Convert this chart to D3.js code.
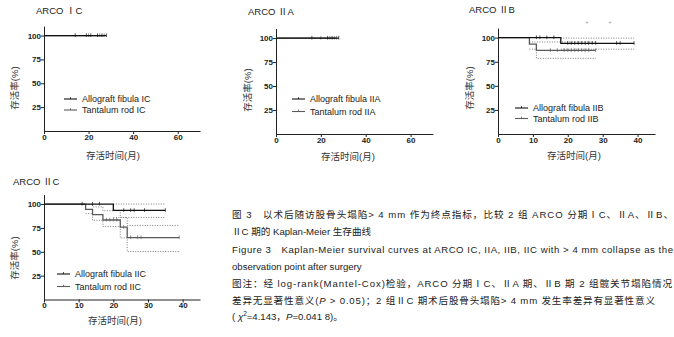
<!DOCTYPE html>
<html>
<head>
<meta charset="utf-8">
<script src="https://cdn.jsdelivr.net/npm/d3@7"></script>
<style>
  body { margin: 0; background: #fff; }
  svg { display: block; }
</style>
</head>
<body>
<script>
// 刻度
const xTicksLong = [0, 20, 40, 60];
const xTicksShort = [0, 10, 20, 30, 40];
const yTicks = [25, 50, 75, 100];

// ARCO IC  [月, 生存率%]
const icAllo = [[0, 100]], icAlloEnd = 28, icAlloCens = [14, 19, 21, 24, 26, 28];
const icTant = [[0, 100]], icTantEnd = 27, icTantCens = [20, 25, 27];

// ARCO IIA
const iiaAllo = [[0, 100]], iiaAlloEnd = 28, iiaAlloCens = [16, 23, 25, 28];
const iiaTant = [[0, 100]], iiaTantEnd = 27, iiaTantCens = [20, 24, 26, 27];

// ARCO IIB
const iibAllo = [[0, 100], [18, 94.1]], iibAlloEnd = 39;
const iibAlloCens = [11, 12, 14, 16, 20, 21, 22, 23, 24, 25, 26, 27, 28, 34, 35, 39];
const iibAlloUp = [[18, 99.5]], iibAlloLo = [[18, 88]];
const iibTant = [[0, 100], [9, 93.3], [11, 86.7]], iibTantEnd = 28;
const iibTantCens = [15, 17, 19, 20, 21, 22, 23, 24, 25, 26, 28];
const iibTantUp = [[9, 95.5]], iibTantLo = [[9, 88], [11, 78.5]];

// ARCO IIC
const iicAllo = [[0, 100], [20, 93.3]], iicAlloEnd = 35;
const iicAlloCens = [11, 14, 16, 23, 25, 26, 29, 35];
const iicAlloUp = [[20, 100]], iicAlloLo = [[20, 86]];
const iicTant = [[0, 100], [12, 94.4], [14, 88.9], [17, 83.3], [22, 75.8], [24, 64.9]], iicTantEnd = 39;
const iicTantCens = [18, 19, 20, 21, 23, 25, 27, 28, 39];
const iicTantUp = [[12, 99.5], [14, 97], [17, 93], [22, 86], [24, 77.6]];
const iicTantLo = [[12, 90], [14, 83], [17, 76.5], [22, 64.5], [24, 50.3]];

const FONT = "'Liberation Sans', 'Noto Sans CJK SC', sans-serif";
const C_ALLO = "#111", C_TANT = "#5a5a5a", C_CI = "#7a7a7a";

const svg = d3.select("body").append("svg")
  .attr("width", 674).attr("height", 337)
  .style("background", "#fff");

const panels = [
  { title: "ARCO ⅠC", tag: "IC", x0: 44, x1: 200, yB: 131, yT: 26, xMax: 70, xTicks: xTicksLong,
    groups: [
      { pts: icTant, end: icTantEnd, cens: icTantCens, color: C_TANT },
      { pts: icAllo, end: icAlloEnd, cens: icAlloCens, color: C_ALLO }],
    tx: 36, ty: 14, ylx: 15, yly: 88, xlx: 113, xly: 159, lx: 64, ly: 99, lg: 11 },
  { title: "ARCO ⅡA", tag: "IIA", x0: 276, x1: 433, yB: 134, yT: 28.5, xMax: 70, xTicks: xTicksLong,
    groups: [
      { pts: iiaTant, end: iiaTantEnd, cens: iiaTantCens, color: C_TANT },
      { pts: iiaAllo, end: iiaAlloEnd, cens: iiaAlloCens, color: C_ALLO }],
    tx: 248, ty: 15, ylx: 248, yly: 90, xlx: 348, xly: 160, lx: 292, ly: 99, lg: 12.5 },
  { title: "ARCO ⅡB", tag: "IIB", x0: 498, x1: 655, yB: 134, yT: 28, xMax: 45, xTicks: xTicksShort,
    groups: [
      { pts: iibTant, end: iibTantEnd, cens: iibTantCens, color: C_TANT, up: iibTantUp, lo: iibTantLo },
      { pts: iibAllo, end: iibAlloEnd, cens: iibAlloCens, color: C_ALLO, up: iibAlloUp, lo: iibAlloLo }],
    tx: 469, ty: 13, ylx: 470, yly: 88, xlx: 574, xly: 159, lx: 515, ly: 108, lg: 10.5 },
  { title: "ARCO ⅡC", tag: "IIC", x0: 44, x1: 200, yB: 299.5, yT: 194.5, xMax: 45, xTicks: xTicksShort,
    groups: [
      { pts: iicTant, end: iicTantEnd, cens: iicTantCens, color: C_TANT, up: iicTantUp, lo: iicTantLo },
      { pts: iicAllo, end: iicAlloEnd, cens: iicAlloCens, color: C_ALLO, up: iicAlloUp, lo: iicAlloLo }],
    tx: 13, ty: 185, ylx: 15, yly: 258, xlx: 115, xly: 324, lx: 57, ly: 274, lg: 12.5 }
];

// 生存率 S(t)
function survAt(pts, t) {
  let s = pts[0][1];
  pts.forEach(p => { if (p[0] <= t) s = p[1]; });
  return s;
}

function drawPanel(p) {
  const x = d3.scaleLinear().domain([0, p.xMax]).range([p.x0, p.x1]);
  const y = d3.scaleLinear().domain([0, 110]).range([p.yB, p.yT]);
  const g = svg.append("g");

  // 軸
  const ax = g.append("g").attr("transform", `translate(0,${p.yB})`)
    .call(d3.axisBottom(x).tickValues(p.xTicks).tickSize(3).tickSizeOuter(0));
  const ay = g.append("g").attr("transform", `translate(${p.x0},0)`)
    .call(d3.axisLeft(y).tickValues(yTicks).tickSize(3).tickSizeOuter(0));
  [ax, ay].forEach(a => {
    a.select(".domain").attr("stroke", "#222").attr("stroke-width", 1);
    a.selectAll(".tick line").attr("stroke", "#222");
    a.selectAll("text").attr("font-family", FONT).attr("font-size", 8)
      .attr("font-weight", "bold").attr("fill", "#222");
  });
  ax.selectAll("text").attr("y", 3).attr("dy", "0.71em");
  ay.selectAll("text").attr("x", -3);

  const step = d3.line().x(d => x(d[0])).y(d => y(d[1])).curve(d3.curveStepAfter);

  // 信頼区間（点線）
  p.groups.forEach(gr => {
    [gr.up, gr.lo].forEach(ci => {
      if (!ci) return;
      const pts = ci.concat([[gr.end, ci[ci.length - 1][1]]]);
      g.append("path").attr("d", step(pts)).attr("fill", "none")
        .attr("stroke", C_CI).attr("stroke-width", 1).attr("stroke-dasharray", "1,1.5");
    });
  });

  // 生存曲線
  p.groups.forEach(gr => {
    const pts = gr.pts.concat([[gr.end, gr.pts[gr.pts.length - 1][1]]]);
    g.append("path").attr("d", step(pts)).attr("fill", "none")
      .attr("stroke", gr.color).attr("stroke-width", 1.3);
    g.selectAll(null).data(gr.cens).enter().append("line")
      .attr("x1", d => x(d)).attr("x2", d => x(d))
      .attr("y1", d => y(survAt(gr.pts, d)) - 2.2)
      .attr("y2", d => y(survAt(gr.pts, d)) + 1.5)
      .attr("stroke", gr.color).attr("stroke-width", 0.7);
  });

  // タイトル・軸ラベル
  g.append("text").attr("x", p.tx).attr("y", p.ty).attr("font-family", FONT)
    .attr("font-size", 9.5).attr("fill", "#222").text(p.title);
  g.append("text").attr("transform", `translate(${p.ylx},${p.yly}) rotate(-90)`)
    .attr("text-anchor", "middle").attr("dy", "0.35em").attr("font-family", FONT)
    .attr("font-size", 9.5).attr("fill", "#333").text("存活率(%)");
  g.append("text").attr("x", p.xlx).attr("y", p.xly).attr("text-anchor", "middle")
    .attr("font-family", FONT).attr("font-size", 9.5).attr("fill", "#333").text("存活时间(月)");

  // 凡例
  const leg = [
    { name: "Allograft fibula " + p.tag, color: C_ALLO },
    { name: "Tantalum rod " + p.tag, color: C_TANT }];
  leg.forEach((l, i) => {
    const yy = p.ly + i * p.lg;
    g.append("line").attr("x1", p.lx).attr("x2", p.lx + 13).attr("y1", yy).attr("y2", yy)
      .attr("stroke", l.color).attr("stroke-width", 1.1);
    g.append("line").attr("x1", p.lx + 6.5).attr("x2", p.lx + 6.5).attr("y1", yy - 1.8).attr("y2", yy)
      .attr("stroke", l.color).attr("stroke-width", 0.8);
    g.append("text").attr("x", p.lx + 18).attr("y", yy).attr("dy", "0.35em")
      .attr("font-family", FONT).attr("font-size", 9).attr("fill", "#222").text(l.name);
  });
}

panels.forEach(drawPanel);

// IIB 上の小さな＋記号
[[587, 22], [610, 22]].forEach(d => {
  svg.append("text").attr("x", d[0]).attr("y", d[1]).attr("dy", "0.35em")
    .attr("text-anchor", "middle").attr("font-family", FONT).attr("font-size", 6)
    .attr("fill", "#999").text("+");
});

// 図の説明文
const caption = [
  { y: 218, len: 441, parts: [["图 3　以术后随访股骨头塌陷> 4 mm 作为终点指标，比较 2 组 ARCO 分期ⅠC、ⅡA、ⅡB、"]] },
  { y: 235, parts: [["ⅡC 期的 Kaplan-Meier 生存曲线"]] },
  { y: 252.5, len: 441, parts: [["Figure 3　Kaplan-Meier survival curves at ARCO IC, IIA, IIB, IIC with > 4 mm collapse as the"]] },
  { y: 269.5, parts: [["observation point after surgery"]] },
  { y: 286.5, len: 440, parts: [["图注：经 log-rank(Mantel-Cox)检验，ARCO 分期ⅠC、ⅡA 期、ⅡB 期 2 组髋关节塌陷情况"]] },
  { y: 303.5, len: 423, parts: [["差异无显著性意义("], ["P", "i"], [" > 0.05)；2 组ⅡC 期术后股骨头塌陷> 4 mm 发生率差异有显著性意义"]] },
  { y: 320, parts: [["( "], ["χ", "i"], ["2", "s"], ["=4.143，", "b"], ["P", "i"], ["=0.041 8)。"]] }
];

caption.forEach(line => {
  const t = svg.append("text").attr("x", 232).attr("y", line.y)
    .attr("font-family", FONT).attr("font-size", 9.6).attr("fill", "#222");
  if (line.len) t.attr("textLength", line.len).attr("lengthAdjust", "spacing");
  line.parts.forEach(([s, f]) => {
    const ts = t.append("tspan").text(s);
    if (f === "i") ts.attr("font-style", "italic");
    if (f === "s") ts.attr("font-size", 6.5).attr("dy", -4);
    if (f === "b") ts.attr("dy", 4);
  });
});
</script>
</body>
</html>
